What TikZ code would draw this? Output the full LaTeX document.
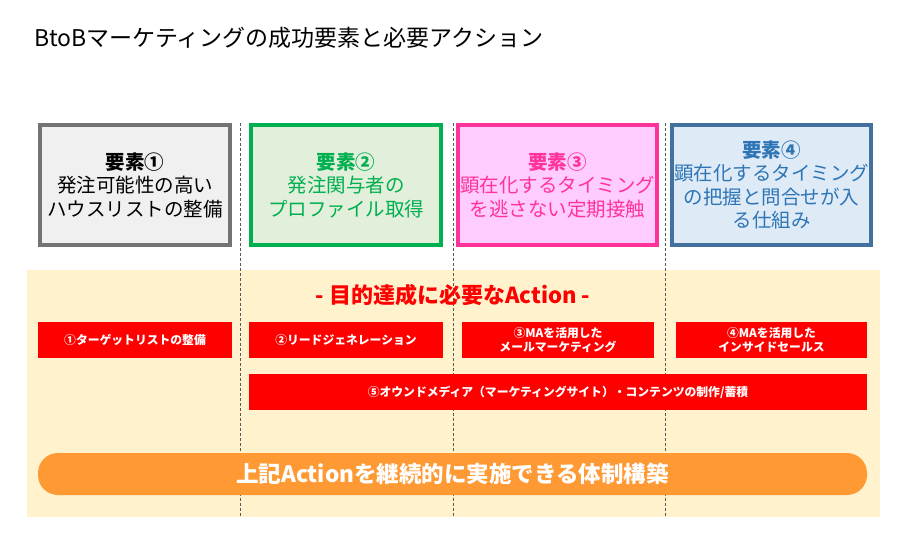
\documentclass[tikz,border=0pt]{standalone}
\usepackage{fontspec}
\setmainfont{Noto Sans CJK JP}
\begin{document}
\begin{tikzpicture}[x=1pt,y=-1pt,
  elem/.style={draw,line width=4pt,minimum width=190pt,minimum height=120pt,align=center,font=\fontsize{19.5}{23.5}\selectfont,inner sep=2pt},
  act/.style={fill=red,text=white,minimum height=36pt,align=center,font=\bfseries\fontsize{11.8}{14}\selectfont,inner sep=1pt},
  sep/.style={dash pattern=on 3pt off 2pt,gray!70!black,line width=0.6pt}]
\useasboundingbox (0,0) rectangle (910,536);
\definecolor{bg}{HTML}{FFF2CC}
\definecolor{g1}{HTML}{00B050}\definecolor{g1f}{HTML}{E2EFDA}
\definecolor{p1}{HTML}{FF3399}\definecolor{p1f}{HTML}{FFCCFF}
\definecolor{b1}{HTML}{41719C}\definecolor{b1f}{HTML}{DEEBF7}
\definecolor{bt}{HTML}{2E75B6}
\definecolor{or}{HTML}{FF9933}
\node[anchor=west,font=\fontsize{23}{26}\selectfont] (title) at (31,38) {BtoBマーケティングの成功要素と必要アクション};
\fill[bg] (27,270) rectangle (880,517);
\node[elem,draw=gray!90!black,fill=gray!12] (e1) at (135,185) {\textbf{要素①}\\発注可能性の高い\\ハウスリストの整備};
\node[elem,draw=g1,fill=g1f,text=g1] (e2) at (346,185) {\textbf{要素②}\\発注関与者の\\プロファイル取得};
\node[elem,draw=p1,fill=p1f,text=p1] (e3) at (557.5,185) {\textbf{要素③}\\顕在化するタイミング\\を逃さない定期接触};
\node[elem,draw=b1,fill=b1f,text=bt] (e4) at (771.5,185) {\textbf{要素④}\\顕在化するタイミング\\の把握と問合せが入\\る仕組み};
\coordinate (s1t) at (240,123); \coordinate (s1b) at (240,517);
\coordinate (s2t) at (453,123); \coordinate (s2b) at (453,517);
\coordinate (s3t) at (665,123); \coordinate (s3b) at (665,517);
\draw[sep] (s1t) -- (s1b); \draw[sep] (s2t) -- (s2b); \draw[sep] (s3t) -- (s3b);
\node[text=red,font=\bfseries\fontsize{22}{25}\selectfont] (h) at (453,295) {- 目的達成に必要なAction -};
\node[act,minimum width=194pt] (a1) at (135,340) {①ターゲットリストの整備};
\node[act,minimum width=194pt] (a2) at (346,340) {②リードジェネレーション};
\node[act,minimum width=192pt] (a3) at (558,340) {③MAを活用した\\メールマーケティング};
\node[act,minimum width=191pt] (a4) at (771.5,340) {④MAを活用した\\インサイドセールス};
\node[act,minimum width=618pt] (a5) at (558,392) {⑤オウンドメディア（マーケティングサイト）・コンテンツの制作/蓄積};
\node[fill=or,rounded corners=20pt,minimum width=829pt,minimum height=42pt,text=white,font=\bfseries\fontsize{22.5}{26}\selectfont] (bar) at (452.5,474) {上記Actionを継続的に実施できる体制構築};
\end{tikzpicture}
\end{document}
